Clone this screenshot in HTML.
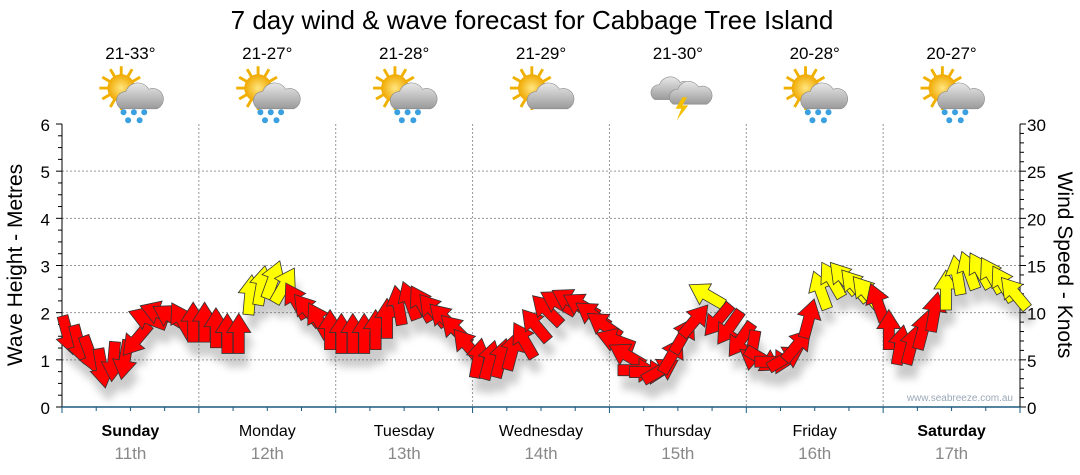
<!DOCTYPE html>
<html><head><meta charset="utf-8"><style>
body{margin:0;background:#fff;}
svg{display:block;font-family:"Liberation Sans",sans-serif;}
</style></head><body>
<svg id="chart" width="1080" height="475" viewBox="0 0 1080 475" xmlns="http://www.w3.org/2000/svg">
<defs>
<filter id="sh" x="-50%" y="-50%" width="200%" height="200%"><feGaussianBlur stdDeviation="4"/></filter>
<radialGradient id="sun" cx="0.5" cy="0.5" r="0.5"><stop offset="0" stop-color="#ffe680"/><stop offset="1" stop-color="#f0a800"/></radialGradient>
<linearGradient id="cl" x1="0" y1="0" x2="0" y2="1"><stop offset="0" stop-color="#e8e8e8"/><stop offset="1" stop-color="#9a9a9a"/></linearGradient>
</defs>
<text x="532" y="29" text-anchor="middle" font-size="26" fill="#000">7 day wind &amp; wave forecast for Cabbage Tree Island</text>
<g id="grid"></g>
<g id="axes"></g>
<g id="icons"></g>
<g id="shadows" filter="url(#sh)" opacity="0.3"></g>
<g id="arrows"></g>
<text x="1013" y="401" text-anchor="end" font-size="10" fill="#9aa8b8">www.seabreeze.com.au</text>
<text transform="translate(22,265) rotate(-90)" text-anchor="middle" font-size="21" fill="#000">Wave Height - Metres</text>
<text transform="translate(1058,265) rotate(90)" text-anchor="middle" font-size="21" fill="#000">Wind Speed - Knots</text>
</svg>
<script>
const days=["Sunday","Monday","Tuesday","Wednesday","Thursday","Friday","Saturday"];
const dates=["11th","12th","13th","14th","15th","16th","17th"];
const temps=["21-33°","21-27°","21-28°","21-29°","21-30°","20-28°","20-27°"];
const icons=["rain","rain","rain","cloud","storm","rain","rain"];
const waveTicks=[0,1,2,3,4,5,6];
const windTicks=[0,5,10,15,20,25,30];
// wind speed (knots), one every 2 hours
const windSpeed=[7.6,6.6,5.5,4.1,4.8,5.0,7.1,9.4,10.0,9.6,9.2,9.0,
9.0,8.4,7.8,7.8,11.9,12.9,13.5,12.9,11.3,10.3,9.2,8.2,
7.8,7.8,7.8,8.2,9.4,10.8,11.3,11.0,10.3,9.4,8.2,6.6,
5.2,5.0,5.2,6.0,7.1,8.7,10.3,11.1,11.3,10.8,9.8,8.7,
7.1,5.5,3.9,3.7,3.9,5.5,7.6,9.2,11.9,9.2,8.4,7.1,
6.0,5.0,4.8,5.2,6.6,9.4,12.4,13.5,13.7,12.9,12.2,11.1,
8.2,6.6,6.6,8.2,10.1,12.4,14.0,14.5,14.5,14.0,13.1,12.1];
// direction the arrow points (degrees clockwise from up)
const windDir=[165,165,160,170,185,190,220,290,290,300,330,0,
0,0,0,0,5,10,20,30,330,320,330,0,
0,0,0,0,0,350,340,330,320,315,315,320,
10,15,15,15,330,320,315,300,300,300,305,305,
290,300,90,90,60,30,30,40,300,220,215,215,
190,120,90,60,40,15,340,330,320,320,320,340,
0,10,15,15,10,0,350,340,330,330,330,320];
const X0=62,X1=1020,Y0=407,Y1=124;
const xAt=i=>X0+(i+0.5)*(X1-X0)/windSpeed.length;
const yWave=v=>Y0-(v/6)*(Y0-Y1);
const yWind=v=>Y0-(v/30)*(Y0-Y1);
const dayW=(X1-X0)/7;
const NS="http://www.w3.org/2000/svg";
function mk(tag,attrs,parent,text){const e=document.createElementNS(NS,tag);for(const k in attrs)e.setAttribute(k,attrs[k]);if(text!==undefined)e.textContent=text;parent.appendChild(e);return e;}
const grid=document.getElementById('grid'),axes=document.getElementById('axes'),ic=document.getElementById('icons');
waveTicks.forEach(v=>{if(v>0&&v<6){const l=mk('line',{x1:X0,x2:X1,y1:yWave(v),y2:yWave(v),stroke:'#999','stroke-dasharray':'2,2','stroke-width':1},grid);

}
const t=mk('text',{x:50,y:yWave(v)+7,'text-anchor':'end','font-size':17,fill:'#000'},axes,v);

});
for(let d=1;d<7;d++){const l=mk('line',{x1:X0+d*dayW,x2:X0+d*dayW,y1:Y1,y2:Y0,stroke:'#999','stroke-dasharray':'2,2'},grid);

}
for(let k=0;k<=24;k++){const y=Y0-k*(Y0-Y1)/24;mk('line',{x1:X0-(k%4==0?6:4),x2:X0,y1:y,y2:y,stroke:'#000'},axes);}
for(let k=0;k<=30;k++){const y=yWind(k);mk('line',{x1:X1,x2:X1+(k%5==0?6:4),y1:y,y2:y,stroke:'#000'},axes);}
windTicks.forEach(v=>{const t=mk('text',{x:1027,y:yWind(v)+7,'font-size':17,fill:'#000'},axes,v);

});
mk('line',{x1:X0,x2:X0,y1:Y1,y2:Y0,stroke:'#000'},axes);
mk('line',{x1:X1,x2:X1,y1:Y1,y2:Y0,stroke:'#000'},axes);
mk('line',{x1:X0,x2:X1,y1:Y0,y2:Y0,stroke:'#1a5a80','stroke-width':1.5},axes);
for(let k=0;k<=28;k++){const x=X0+k*dayW/4;mk('line',{x1:x,x2:x,y1:Y0,y2:Y0+(k%4==0?6:4),stroke:'#1a5a80'},axes);}
days.forEach((d,i)=>{const cx=X0+(i+0.5)*dayW;const bold=(i==0||i==6);
const t=mk('text',{x:cx,y:436,'text-anchor':'middle','font-size':16,'font-weight':bold?'bold':'normal',fill:'#000'},axes,d);


const t2=mk('text',{x:cx,y:459,'text-anchor':'middle','font-size':17,fill:'#888'},axes,dates[i]);


const t3=mk('text',{x:cx,y:59,'text-anchor':'middle','font-size':17,fill:'#000'},ic,temps[i]);


const g=mk('g',{transform:`translate(${cx},95) scale(1.15)`},ic);


if(icons[i]!=='storm'){
 for(let r=0;r<12;r++){const a=r*30*Math.PI/180;mk('line',{x1:-8+Math.cos(a)*11,y1:-6+Math.sin(a)*11,x2:-8+Math.cos(a)*19,y2:-6+Math.sin(a)*19,stroke:'#f0b000','stroke-width':2.5},g);}
 mk('circle',{cx:-8,cy:-6,r:12,fill:'url(#sun)'},g);
 mk('path',{d:'M-8,12 a8,8 0 0 1 4,-15 a11,11 0 0 1 20,-2 a8,8 0 0 1 7,17 Z',fill:'url(#cl)',stroke:'#888','stroke-width':0.5},g);
}else{
 mk('path',{d:'M-20,4 a7,7 0 0 1 4,-13 a10,10 0 0 1 18,-2 a7,7 0 0 1 7,15 Z',fill:'url(#cl)',stroke:'#888','stroke-width':0.5},g);
 mk('path',{d:'M-4,8 a7,7 0 0 1 4,-13 a10,10 0 0 1 18,-2 a7,7 0 0 1 7,15 Z',fill:'url(#cl)',stroke:'#888','stroke-width':0.5},g);
 mk('path',{d:'M4,2 L-2,12 L3,12 L-1,22 L9,9 L4,9 L8,2 Z',fill:'#f5c000'},g);
}
if(icons[i]==='rain'){[[-6,15],[3,15],[12,15],[-2,22],[8,22]].forEach(p=>mk('circle',{cx:p[0],cy:p[1],r:2.6,fill:'#3aa0e0'},g));}
});
const sh=document.getElementById('shadows'),ar=document.getElementById('arrows');
const AP='M0,-20 L12,-1 L5.5,-1 L5.5,20 L-5.5,20 L-5.5,-1 L-12,-1 Z';
windSpeed.forEach((v,i)=>{
 const x=xAt(i),y=yWind(v);
 mk('path',{d:AP,fill:'#555',transform:`translate(${x+4},${y+14}) rotate(${windDir[i]})`},sh);
 const p=mk('path',{d:AP,fill:v>=11.5?'#ffff00':'#ff0000',stroke:'#333','stroke-width':0.8,transform:`translate(${x},${y}) rotate(${windDir[i]})`},ar);
 
 
});
</script>
</body></html>
